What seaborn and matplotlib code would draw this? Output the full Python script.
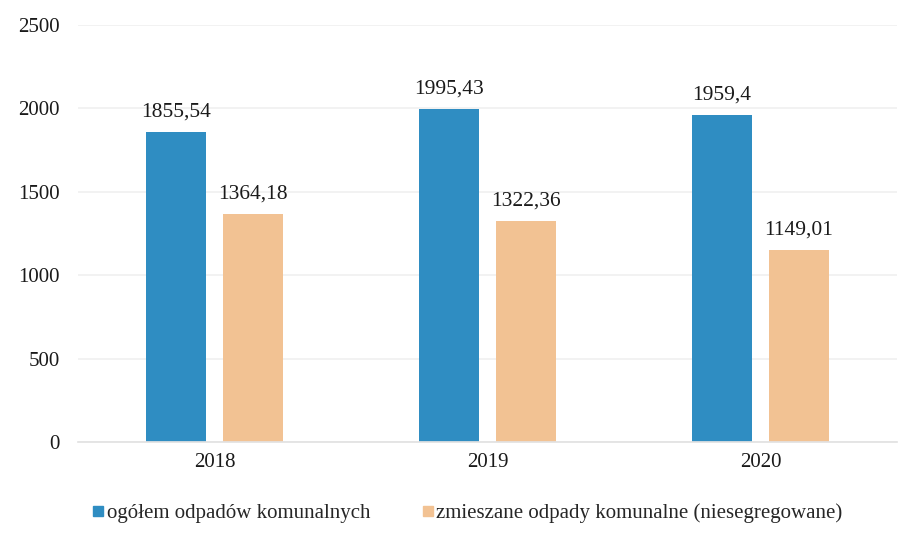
import matplotlib
matplotlib.use("Agg")
import matplotlib.pyplot as plt
from matplotlib.lines import Line2D
import seaborn as sns
import pandas as pd

years = ["2018", "2019", "2020"]
series_names = ["ogółem odpadów komunalnych",
                "zmieszane odpady komunalne (niesegregowane)"]
total_waste = [1855.54, 1995.43, 1959.4]
mixed_waste = [1364.18, 1322.36, 1149.01]
value_labels_total = ["1855,54", "1995,43", "1959,4"]
value_labels_mixed = ["1364,18", "1322,36", "1149,01"]
y_ticks = [0, 500, 1000, 1500, 2000, 2500]

colors = ["#2f8dc2", "#f2c293"]

df = pd.DataFrame({
    "rok": years * 2,
    "seria": [series_names[0]] * 3 + [series_names[1]] * 3,
    "wartosc": total_waste + mixed_waste,
})

sns.set_theme(style="white")
plt.rcParams["font.family"] = ["Liberation Serif", "DejaVu Serif"]

fig = plt.figure(figsize=(9.06, 5.38), dpi=100)
ax = fig.add_axes([78 / 906, 1 - 442 / 538, 819 / 906, 417 / 538])

sns.barplot(data=df, x="rok", y="wartosc", hue="seria", order=years,
            hue_order=series_names, palette=colors, width=0.564, gap=0.22,
            saturation=1, linewidth=0, ax=ax, legend=False)

ax.set_ylim(0, 2500)
ax.set_xlim(-0.5, 2.5)
ax.set_yticks(y_ticks)
ax.set_yticklabels([str(t) for t in y_ticks])
ax.yaxis.grid(True, color="#f0f0f0", linewidth=1.2)
ax.set_axisbelow(True)
for s in ["top", "right", "left"]:
    ax.spines[s].set_visible(False)
ax.spines["bottom"].set_color("#e2e2e2")
ax.tick_params(axis="both", length=0, labelsize=15, colors="#1a1a1a")
ax.tick_params(axis="y", pad=13)
ax.tick_params(axis="x", pad=8)
ax.set_xlabel("")
ax.set_ylabel("")

for container, labels in zip(ax.containers, [value_labels_total, value_labels_mixed]):
    ax.bar_label(container, labels=labels, padding=8, fontsize=15.5, color="#1a1a1a")

handles = [Line2D([0], [0], marker="s", linestyle="", markersize=7,
                  markerfacecolor=c, markeredgecolor=c) for c in colors]
fig.legend(handles, series_names, loc="center", bbox_to_anchor=(0.515, 1 - 513 / 538),
           ncol=2, frameon=False, fontsize=15, handletextpad=0.05,
           columnspacing=2.4, handlelength=0.7)

fig.savefig("out.png", dpi=100, facecolor="white")
